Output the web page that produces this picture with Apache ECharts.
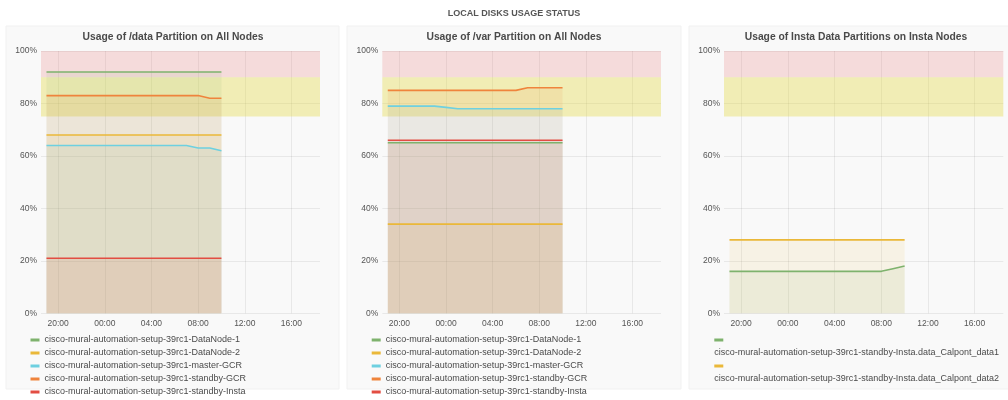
<!DOCTYPE html>
<html>
<head>
<meta charset="utf-8">
<script src="https://cdn.jsdelivr.net/npm/echarts@6/dist/echarts.min.js"></script>
<style>
  html, body { margin: 0; padding: 0; background: #ffffff; }
  #chart { width: 1008px; height: 400px; }
</style>
</head>
<body>
<div id="chart"></div>
<script>
// Sample times, in hours from midnight of the first day (19 = 19:00, 34 = 10:00 next day)
const sampleHours = [19, 20, 21, 22, 23, 24, 25, 26, 27, 28, 29, 30, 31, 32, 33, 34];
const tickHours = [20, 24, 28, 32, 36, 40];
const tickLabels = ['20:00', '00:00', '04:00', '08:00', '12:00', '16:00'];

const nodeNames = [
  'cisco-mural-automation-setup-39rc1-DataNode-1',
  'cisco-mural-automation-setup-39rc1-DataNode-2',
  'cisco-mural-automation-setup-39rc1-master-GCR',
  'cisco-mural-automation-setup-39rc1-standby-GCR',
  'cisco-mural-automation-setup-39rc1-standby-Insta'
];
const instaNames = [
  'cisco-mural-automation-setup-39rc1-standby-Insta.data_Calpont_data1',
  'cisco-mural-automation-setup-39rc1-standby-Insta.data_Calpont_data2'
];
const nodeColors = ['#7eb26d', '#eab839', '#6ed0e0', '#ef843c', '#e24d42'];
const instaColors = ['#7eb26d', '#eab839'];

// Threshold bands (percent)
const warnBand = [75, 90];
const critBand = [90, 100];

// /data partition usage (%)
const dataDataNode1 = [92, 92, 92, 92, 92, 92, 92, 92, 92, 92, 92, 92, 92, 92, 92, 92];
const dataDataNode2 = [68, 68, 68, 68, 68, 68, 68, 68, 68, 68, 68, 68, 68, 68, 68, 68];
const dataMasterGCR = [64, 64, 64, 64, 64, 64, 64, 64, 64, 64, 64, 64, 64, 63, 63, 62];
const dataStandbyGCR = [83, 83, 83, 83, 83, 83, 83, 83, 83, 83, 83, 83, 83, 83, 82, 82];
const dataStandbyInsta = [21, 21, 21, 21, 21, 21, 21, 21, 21, 21, 21, 21, 21, 21, 21, 21];

// /var partition usage (%)
const varDataNode1 = [65, 65, 65, 65, 65, 65, 65, 65, 65, 65, 65, 65, 65, 65, 65, 65];
const varDataNode2 = [34, 34, 34, 34, 34, 34, 34, 34, 34, 34, 34, 34, 34, 34, 34, 34];
const varMasterGCR = [79, 79, 79, 79, 79, 78.5, 78, 78, 78, 78, 78, 78, 78, 78, 78, 78];
const varStandbyGCR = [85, 85, 85, 85, 85, 85, 85, 85, 85, 85, 85, 85, 86, 86, 86, 86];
const varStandbyInsta = [66, 66, 66, 66, 66, 66, 66, 66, 66, 66, 66, 66, 66, 66, 66, 66];

// Insta data partitions usage (%)
const instaData1 = [16, 16, 16, 16, 16, 16, 16, 16, 16, 16, 16, 16, 16, 16, 17, 18];
const instaData2 = [28, 28, 28, 28, 28, 28, 28, 28, 28, 28, 28, 28, 28, 28, 28, 28];

const FONT = '"Liberation Sans", Arial, Helvetica, sans-serif';
const GRID_LINE = 'rgba(0,0,0,0.065)';
const TEXT = '#4a4a4a';

function pairs(values) {
  return sampleHours.map((h, i) => [h, values[i]]);
}

function lineSeries(name, values, color, idx, withBands) {
  const s = {
    type: 'line',
    name: name,
    xAxisIndex: idx,
    yAxisIndex: idx,
    data: pairs(values),
    showSymbol: false,
    symbol: 'none',
    color: color,
    lineStyle: { width: 1.6, color: color },
    areaStyle: { color: color, opacity: 0.1 },
    emphasis: { disabled: true },
    silent: true,
    animation: false
  };
  if (withBands) {
    s.markArea = {
      silent: true,
      z: 1,
      data: [
        [{ yAxis: critBand[0], itemStyle: { color: 'rgba(234,112,112,0.22)' } }, { yAxis: critBand[1] }],
        [{ yAxis: warnBand[0], itemStyle: { color: 'rgba(228,216,60,0.36)' } }, { yAxis: warnBand[1] }]
      ]
    };
  }
  return s;
}

const grids = [
  { left: 41, width: 279, top: 51, height: 262.3 },
  { left: 382.3, width: 278.7, top: 51, height: 262.3 },
  { left: 724, width: 279.3, top: 51, height: 262.3 }
];

function xAxisFor(i) {
  return {
    type: 'value',
    gridIndex: i,
    min: 18.53,
    max: 42.45,
    axisLine: { show: false },
    axisTick: { show: false, customValues: tickHours },
    axisLabel: {
      customValues: tickHours,
      formatter: v => tickLabels[tickHours.indexOf(v)] || '',
      color: '#555',
      fontSize: 8.5,
      fontFamily: FONT,
      margin: 6
    },
    splitLine: { show: true, lineStyle: { color: GRID_LINE, width: 1 } }
  };
}

function yAxisFor(i) {
  return {
    type: 'value',
    gridIndex: i,
    min: 0,
    max: 100,
    interval: 20,
    axisLine: { show: false },
    axisTick: { show: false },
    axisLabel: { formatter: '{value}%', color: '#555', fontSize: 8.5, fontFamily: FONT, margin: 4 },
    splitLine: { show: true, lineStyle: { color: GRID_LINE, width: 1 } }
  };
}

const series = [];
const dataSets = [dataDataNode1, dataDataNode2, dataMasterGCR, dataStandbyGCR, dataStandbyInsta];
const varSets = [varDataNode1, varDataNode2, varMasterGCR, varStandbyGCR, varStandbyInsta];
dataSets.forEach((vals, k) => series.push(lineSeries(nodeNames[k], vals, nodeColors[k], 0, k === 0)));
varSets.forEach((vals, k) => series.push(lineSeries(nodeNames[k], vals, nodeColors[k], 1, k === 0)));
[instaData1, instaData2].forEach((vals, k) => series.push(lineSeries(instaNames[k], vals, instaColors[k], 2, k === 0)));

function panelTitle(text, cx) {
  return {
    text: text,
    left: cx,
    top: 32,
    padding: 0,
    textAlign: 'center',
    textStyle: { fontSize: 10.3, fontWeight: 'bold', color: '#4a4a4a', fontFamily: FONT }
  };
}

function nodeLegend(left) {
  return {
    orient: 'vertical',
    left: left,
    top: 333.5,
    height: 70,
    padding: 0,
    itemWidth: 9,
    itemHeight: 3,
    itemGap: 0,
    icon: 'rect',
    selectedMode: false,
    data: nodeNames.map((n, k) => ({ name: n, itemStyle: { color: nodeColors[k] } })),
    textStyle: { fontSize: 9, color: TEXT, fontFamily: FONT, lineHeight: 13 }
  };
}

const instaRich = {
  g: { width: 9, height: 3, backgroundColor: instaColors[0], lineHeight: 13 },
  y: { width: 9, height: 3, backgroundColor: instaColors[1], lineHeight: 13 },
  t: { fontSize: 9, color: TEXT, fontFamily: FONT, lineHeight: 13 }
};

const option = {
  animation: false,
  backgroundColor: '#ffffff',
  textStyle: { fontFamily: FONT },
  graphic: [
    { type: 'rect', z: -10, shape: { x: 6, y: 26, width: 333, height: 363 }, style: { fill: '#f9f9f9', stroke: '#f1f1f1', lineWidth: 1 } },
    { type: 'rect', z: -10, shape: { x: 347, y: 26, width: 334, height: 363 }, style: { fill: '#f9f9f9', stroke: '#f1f1f1', lineWidth: 1 } },
    { type: 'rect', z: -10, shape: { x: 689, y: 26, width: 330, height: 363 }, style: { fill: '#f9f9f9', stroke: '#f1f1f1', lineWidth: 1 } }
  ],
  title: [
    {
      text: 'LOCAL DISKS USAGE STATUS',
      left: 514,
      top: 9.5,
      padding: 0,
      textAlign: 'center',
      textStyle: { fontSize: 9, fontWeight: 'bold', color: '#555', fontFamily: FONT }
    },
    panelTitle('Usage of /data Partition on All Nodes', 173),
    panelTitle('Usage of /var Partition on All Nodes', 514),
    panelTitle('Usage of Insta Data Partitions on Insta Nodes', 856)
  ],
  legend: [
    nodeLegend(30.5),
    nodeLegend(371.7),
    {
      orient: 'vertical',
      left: 709.3,
      top: 333.5,
      height: 70,
      padding: 0,
      itemWidth: 0,
      itemHeight: 0,
      itemGap: 0,
      icon: 'none',
      selectedMode: false,
      data: instaNames,
      formatter: name => '{' + (name === instaNames[0] ? 'g' : 'y') + '| }\n{t|' + name + '}',
      textStyle: { fontSize: 9, color: TEXT, fontFamily: FONT, lineHeight: 13, rich: instaRich }
    }
  ],
  grid: grids,
  xAxis: [xAxisFor(0), xAxisFor(1), xAxisFor(2)],
  yAxis: [yAxisFor(0), yAxisFor(1), yAxisFor(2)],
  series: series
};

const chart = echarts.init(document.getElementById('chart'), null, { renderer: 'canvas' });
chart.setOption(option);
</script>
</body>
</html>
